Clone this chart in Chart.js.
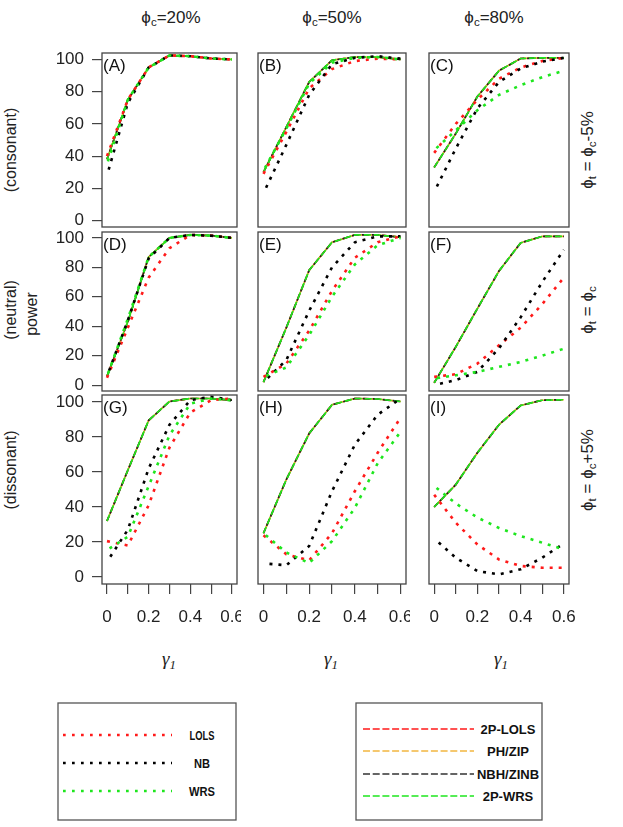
<!DOCTYPE html>
<html>
<head>
<meta charset="utf-8">
<script src="https://cdn.jsdelivr.net/npm/chart.js@4.4.1/dist/chart.umd.min.js"></script>
<style>
  body { margin: 0; background: #fff; }
  #page { position: relative; width: 623px; height: 827px; overflow: hidden;
          font-family: "Liberation Sans", Arial, sans-serif; color: #222; }
  #page canvas { position: absolute; }
  .lbl { position: absolute; white-space: nowrap; transform: translate(-50%, -50%); }
  .rot { transform: translate(-50%, -50%) rotate(-90deg); }
  sub { font-size: 68%; vertical-align: -0.3em; line-height: 0; }
  .gam { font-family: "Liberation Serif", serif; font-style: italic; font-size: 19px; }
  svg { position: absolute; left: 0; top: 0; }
</style>
</head>
<body>
<div id="page">
  <div class="lbl" style="left:171px;top:18px;font-size:17px">ϕ<sub>c</sub>=20%</div>
  <div class="lbl" style="left:332px;top:18px;font-size:17px">ϕ<sub>c</sub>=50%</div>
  <div class="lbl" style="left:494px;top:18px;font-size:17px">ϕ<sub>c</sub>=80%</div>

  <div class="lbl rot" style="left:11px;top:150px;font-size:16px">(consonant)</div>
  <div class="lbl rot" style="left:11px;top:310px;font-size:16px">(neutral)</div>
  <div class="lbl rot" style="left:32px;top:314px;font-size:16px">power</div>
  <div class="lbl rot" style="left:11px;top:470px;font-size:16px">(dissonant)</div>

  <div class="lbl rot" style="left:588px;top:150px;font-size:17px">ϕ<sub>t</sub> = ϕ<sub>c</sub>-5%</div>
  <div class="lbl rot" style="left:588px;top:310px;font-size:17px">ϕ<sub>t</sub> = ϕ<sub>c</sub></div>
  <div class="lbl rot" style="left:588px;top:470px;font-size:17px">ϕ<sub>t</sub> = ϕ<sub>c</sub>+5%</div>

  <div class="lbl gam" style="left:169px;top:659px">γ<sub>1</sub></div>
  <div class="lbl gam" style="left:331px;top:659px">γ<sub>1</sub></div>
  <div class="lbl gam" style="left:501px;top:659px">γ<sub>1</sub></div>

  <svg width="623" height="827" id="legends"></svg>
</div>
<script>
// gamma_1 grid (x values) and axis ticks
const gamma = [0, 0.1, 0.2, 0.3, 0.4, 0.5, 0.6];
const xTickLabels = ["0", "", "0.2", "", "0.4", "", "0.6"];
const yTicks = [0, 20, 40, 60, 80, 100];
const panelLetters = ["(A)", "(B)", "(C)", "(D)", "(E)", "(F)", "(G)", "(H)", "(I)"];

// power (%) per panel A..I
const lols = [
  [40, 75, 95, 102.5, 102, 100.6, 100],
  [29, 55, 82, 94, 99, 100.5, 100],
  [42, 60, 75, 88, 95, 99, 101],
  [5, 39, 73, 93, 102, 101.6, 100],
  [5.6, 14.6, 37, 64, 86.5, 97, 101],
  [5.6, 7.4, 14.6, 27, 39, 55, 73],
  [20.5, 18, 41, 74, 94, 101, 102],
  [23.8, 13, 9.5, 25, 49, 71, 91],
  [47, 31, 18.6, 10, 6.3, 5.3, 5.3],
];
const nb = [
  [28, 73, 95, 102.5, 102, 100.6, 100],
  [17, 47, 78, 97, 101, 102, 100.5],
  [17.8, 44.7, 69.6, 86, 94.4, 98.6, 101],
  [6, 44, 86, 100, 102, 101.5, 100],
  [2, 17, 50.5, 80, 97, 101, 101],
  [0, 3.4, 9, 25, 46, 70, 92],
  [8.7, 27, 62, 87, 101, 103, 101],
  [7.8, 6.7, 17.7, 49, 75.6, 92.7, 102],
  [22, 11, 3.4, 1.5, 4.4, 11, 19.2],
];
const wrs = [
  [35, 75, 95, 102.5, 102, 100.6, 100],
  [31, 57, 85, 98, 101, 101.5, 100],
  [43.7, 56, 68.5, 78, 84, 89, 93],
  [6, 45, 87, 100, 102, 101.5, 100],
  [5.6, 12, 34, 60, 82, 95, 100],
  [4.5, 6.7, 9, 12.4, 15.7, 20, 24.7],
  [15.4, 23, 52, 81, 99, 102, 101],
  [25, 14, 8, 20.5, 39.5, 65, 83],
  [52, 42, 34, 28, 23.4, 19.6, 15.8],
];
// the four two-part tests lie almost on top of each other
const twoPartLols = [
  [38, 75, 95, 102.5, 102, 100.6, 100],
  [30, 58, 86, 99.5, 101.5, 101.5, 100],
  [33, 54, 77, 93, 100.6, 101, 101],
  [6, 43, 87, 100, 102, 101.6, 100],
  [2, 39, 78, 97, 102, 102, 100.5],
  [1.6, 26, 52, 77.5, 96.6, 101, 101],
  [32, 61, 89.5, 100.3, 102, 102, 101],
  [25, 55.7, 82, 98.4, 102, 101.7, 100.3],
  [40, 52.8, 71, 87, 98, 101, 101.3],
];
const phZip = [
  [38, 75, 95, 102.5, 102, 100.6, 100],
  [30, 58, 86, 99.5, 101.5, 101.5, 100],
  [33, 54, 77, 93, 100.6, 101, 101],
  [6, 43, 87, 100, 102, 101.6, 100],
  [2, 39, 78, 97, 102, 102, 100.5],
  [1.6, 26, 52, 77.5, 96.6, 101, 101],
  [32, 61, 89.5, 100.3, 102, 102, 101],
  [25, 55.7, 82, 98.4, 102, 101.7, 100.3],
  [40, 52.8, 71, 87, 98, 101, 101.3],
];
const nbhZinb = [
  [38, 75, 95, 102.5, 102, 100.6, 100],
  [30, 58, 86, 99.5, 101.5, 101.5, 100],
  [33, 54, 77, 93, 100.6, 101, 101],
  [6, 43, 87, 100, 102, 101.6, 100],
  [2, 39, 78, 97, 102, 102, 100.5],
  [1.6, 26, 52, 77.5, 96.6, 101, 101],
  [32, 61, 89.5, 100.3, 102, 102, 101],
  [25, 55.7, 82, 98.4, 102, 101.7, 100.3],
  [40, 52.8, 71, 87, 98, 101, 101.3],
];
const twoPartWrs = [
  [38, 75, 95, 102.5, 102, 100.6, 100],
  [30, 58, 86, 99.5, 101.5, 101.5, 100],
  [33, 54, 77, 93, 100.6, 101, 101],
  [6, 43, 87, 100, 102, 101.6, 100],
  [2, 39, 78, 97, 102, 102, 100.5],
  [1.6, 26, 52, 77.5, 96.6, 101, 101],
  [32, 61, 89.5, 100.3, 102, 102, 101],
  [25, 55.7, 82, 98.4, 102, 101.7, 100.3],
  [40, 52.8, 71, 87, 98, 101, 101.3],
];

const RED = "#ff1a1a", BLACK = "#000000", GREEN = "#1ee61e", ORANGE = "#f0a828";
const DOT = [3, 6], LONGDASH = [7, 3];

// first entry is drawn on top
const series = [
  { label: "WRS", values: wrs, color: GREEN, dash: DOT, offset: 6, width: 2.6 },
  { label: "NB", values: nb, color: BLACK, dash: DOT, offset: 3, width: 2.6 },
  { label: "LOLS", values: lols, color: RED, dash: DOT, offset: 0, width: 2.6 },
  { label: "2P-WRS", values: twoPartWrs, color: GREEN, dash: LONGDASH, offset: 0, width: 1.7 },
  { label: "NBH/ZINB", values: nbhZinb, color: "#222222", dash: LONGDASH, offset: 2, width: 1.7 },
  { label: "PH/ZIP", values: phZip, color: ORANGE, dash: LONGDASH, offset: 5, width: 1.7 },
  { label: "2P-LOLS", values: twoPartLols, color: RED, dash: LONGDASH, offset: 1, width: 1.7 },
];

// panel boxes on the page
const boxLeft = [102, 258, 429], boxRight = [237, 406, 569];
const boxTop = [53, 232, 395], boxBottom = [227, 391, 584];

const tickFont = { family: '"Liberation Sans", Arial, sans-serif', size: 17 };

const frame = {
  id: "frame",
  afterDatasetsDraw(chart, args, opts) {
    const { ctx, chartArea: a } = chart;
    ctx.save();
    ctx.strokeStyle = "#444";
    ctx.lineWidth = 1.3;
    ctx.strokeRect(a.left, a.top, a.right - a.left, a.bottom - a.top);
    ctx.fillStyle = "#111";
    ctx.font = '17px "Liberation Sans", Arial, sans-serif';
    ctx.textBaseline = "middle";
    ctx.fillText(opts.letter, a.left + 1, a.top + 13.5);
    ctx.restore();
  },
};

const page = document.getElementById("page");

for (let p = 0; p < 9; p++) {
  const col = p % 3, row = Math.floor(p / 3);
  const axisW = col === 0 ? 60 : 0;
  const axisH = row === 2 ? 45 : 0;
  const padL = col === 0 ? 0 : 3;
  const padR = [4, 4, 16][col];
  const padT = 8;
  const padB = row === 2 ? 0 : 3;
  const w = boxRight[col] - boxLeft[col] + padL + axisW + padR;
  const h = boxBottom[row] - boxTop[row] + padT + axisH + padB;

  const canvas = document.createElement("canvas");
  canvas.width = w;
  canvas.height = h;
  canvas.style.width = w + "px";
  canvas.style.height = h + "px";
  canvas.style.left = boxLeft[col] - padL - axisW + "px";
  canvas.style.top = boxTop[row] - padT + "px";
  page.appendChild(canvas);

  new Chart(canvas, {
    type: "line",
    data: {
      datasets: series.map((s) => ({
        label: s.label,
        data: gamma.map((g, i) => ({ x: g, y: s.values[p][i] })),
        borderColor: s.color,
        borderWidth: s.width,
        borderDash: s.dash,
        borderDashOffset: s.offset,
        borderCapStyle: "butt",
        pointRadius: 0,
        tension: 0,
        fill: false,
      })),
    },
    plugins: [frame],
    options: {
      responsive: false,
      animation: false,
      events: [],
      layout: { padding: { left: padL, right: padR, top: padT, bottom: padB } },
      plugins: {
        legend: { display: false },
        tooltip: { enabled: false },
        frame: { letter: panelLetters[p] },
      },
      scales: {
        x: {
          type: "linear",
          min: -0.024,
          max: 0.624,
          display: row === 2,
          afterBuildTicks(scale) {
            scale.ticks = gamma.map((v) => ({ value: v }));
          },
          afterFit(scale) {
            scale.height = axisH;
            scale.paddingLeft = 0;
            scale.paddingRight = 0;
          },
          ticks: {
            autoSkip: false,
            maxRotation: 0,
            padding: 13,
            color: "#222",
            font: tickFont,
            callback: (v, i) => xTickLabels[i],
          },
          grid: { drawOnChartArea: false, tickLength: 10, color: "#444", lineWidth: 1.2 },
          border: { display: false },
        },
        y: {
          min: -4,
          max: 104,
          display: col === 0,
          afterBuildTicks(scale) {
            scale.ticks = yTicks.map((v) => ({ value: v }));
          },
          afterFit(scale) {
            scale.width = axisW;
            scale.paddingTop = 0;
            scale.paddingBottom = 0;
          },
          ticks: { padding: 8, color: "#222", font: tickFont },
          grid: { drawOnChartArea: false, tickLength: 10, color: "#444", lineWidth: 1.2 },
          border: { display: false },
        },
      },
    },
  });
}

// legends
const svg = document.getElementById("legends");
const NS = "http://www.w3.org/2000/svg";
function add(tag, attrs, text) {
  const el = document.createElementNS(NS, tag);
  for (const k in attrs) el.setAttribute(k, attrs[k]);
  if (text) el.textContent = text;
  svg.appendChild(el);
}
function legendBox(x, y, w, h, entries, lineX1, lineX2, textX, rowYs) {
  add("rect", { x, y, width: w, height: h, fill: "none", stroke: "#555", "stroke-width": 1.3 });
  entries.forEach((s, i) => {
    add("line", {
      x1: lineX1, x2: lineX2, y1: rowYs[i], y2: rowYs[i],
      stroke: s.color, "stroke-width": s.dash === DOT ? 2.7 : 1.4,
      "stroke-dasharray": s.dash === DOT ? "2.7 6.3" : "7 2.7",
    });
    const attrs = {
      x: textX, y: rowYs[i], "text-anchor": "middle", "dominant-baseline": "central",
      "font-family": '"Liberation Sans", Arial, sans-serif', "font-size": 13,
      "font-weight": "bold", fill: "#111",
    };
    if (s.fit) { attrs.textLength = s.fit; attrs.lengthAdjust = "spacingAndGlyphs"; }
    add("text", attrs, s.label);
  });
}
const find = (l) => series.find((s) => s.label === l);
legendBox(58, 703, 178, 117,
  [{ ...find("LOLS"), fit: 25 }, { ...find("NB"), fit: 16 }, { ...find("WRS"), fit: 26 }],
  63, 172, 202, [735, 763, 791]);
legendBox(356, 703, 186, 117,
  [find("2P-LOLS"), { ...find("PH/ZIP"), color: "#f2b640" }, { ...find("NBH/ZINB"), color: "#333" }, find("2P-WRS")],
  363, 474, 508, [729, 751, 774, 796]);
</script>
</body>
</html>
